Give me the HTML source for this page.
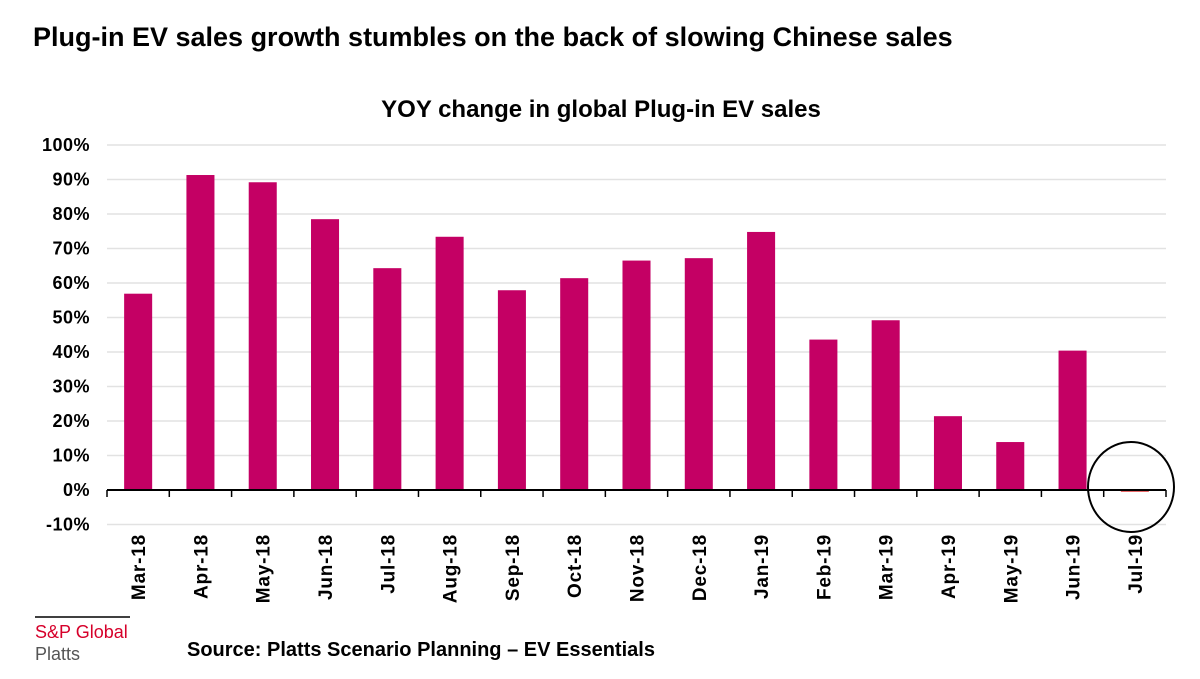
<!DOCTYPE html>
<html><head><meta charset="utf-8"><style>
body{margin:0;background:#fff;width:1200px;height:674px;overflow:hidden;font-family:"Liberation Sans",sans-serif}
</style></head><body>
<svg width="1200" height="674" xmlns="http://www.w3.org/2000/svg">
<text x="33" y="46" font-size="27" font-weight="bold" fill="#000">Plug-in EV sales growth stumbles on the back of slowing Chinese sales</text>
<text x="601" y="117" text-anchor="middle" font-size="24" font-weight="bold" fill="#000">YOY change in global Plug-in EV sales</text>
<g id="grid"></g><g id="bars"></g><g id="axis"></g>
<ellipse cx="1131" cy="487" rx="43" ry="45" fill="none" stroke="#000" stroke-width="2"/>
<line x1="35" y1="617" x2="130" y2="617" stroke="#000" stroke-width="1.5"/>
<text x="35" y="638" font-size="18" fill="#d6002a">S&amp;P Global</text>
<text x="35" y="660" font-size="18" fill="#555">Platts</text>
<text x="187" y="656" font-size="20" font-weight="bold" fill="#000">Source: Platts Scenario Planning – EV Essentials</text>
</svg>
<script>
const categories=["Mar-18","Apr-18","May-18","Jun-18","Jul-18","Aug-18","Sep-18","Oct-18","Nov-18","Dec-18","Jan-19","Feb-19","Mar-19","Apr-19","May-19","Jun-19","Jul-19"];
const values=[56.9,91.3,89.2,78.5,64.3,73.4,57.9,61.4,66.5,67.2,74.8,43.6,49.2,21.4,13.9,40.4,-0.5];
const yTicks=[-10,0,10,20,30,40,50,60,70,80,90,100];
const NS="http://www.w3.org/2000/svg";
const x0=107,x1=1166,step=(x1-x0)/categories.length;
const y=v=>490-v*3.45;
const xc=i=>x0+step*(i+0.5);
function mk(t,a,p){const e=document.createElementNS(NS,t);for(const k in a)e.setAttribute(k,a[k]);p.appendChild(e);return e;}
const grid=document.getElementById('grid'),bars=document.getElementById('bars'),axis=document.getElementById('axis');
yTicks.forEach(v=>{
  if(v!==0){const l=mk('line',{x1:x0,x2:x1,y1:y(v),y2:y(v),stroke:'#e2e2e2','stroke-width':1.5},grid);
  
  }
  const t=mk('text',{x:90,y:y(v)+6,'text-anchor':'end','font-size':18,'font-weight':'bold','letter-spacing':0.5},grid);
  t.textContent=v+'%';
  
  
});
const bw=step*0.45;
values.forEach((v,i)=>{
  const r=mk('rect',{x:xc(i)-bw/2,y:Math.min(y(v),y(0)),width:bw,height:Math.max(Math.abs(y(v)-y(0)),1),fill:v<0?'#e03030':'#c40064'},bars);
  
  
});
const ax=mk('line',{x1:x0,x2:x1,y1:490,y2:490,stroke:'#000','stroke-width':2},axis);


for(let i=0;i<=categories.length;i++){const tk=mk('line',{x1:x0+step*i,x2:x0+step*i,y1:490,y2:497,stroke:'#000','stroke-width':1.5},axis);

}
categories.forEach((c,i)=>{
  const t=mk('text',{x:0,y:0,'text-anchor':'end','font-size':19,'font-weight':'bold','letter-spacing':0.8,transform:`translate(${xc(i)+7},534) rotate(-90)`},axis);
  t.textContent=c;
  
  
});
</script>
</body></html>
